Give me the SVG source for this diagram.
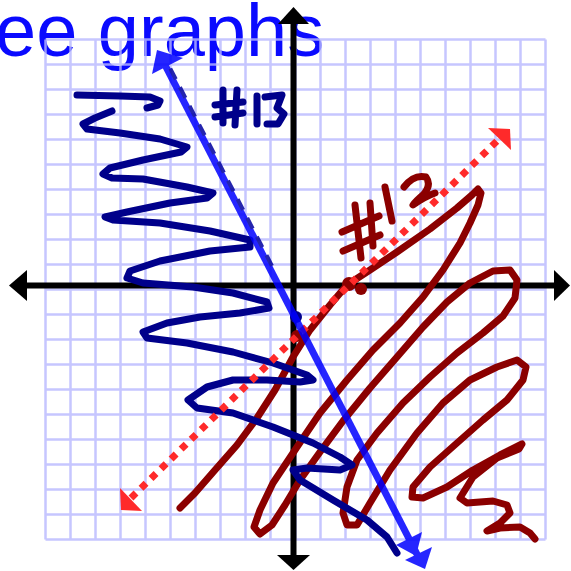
<svg xmlns="http://www.w3.org/2000/svg" width="571" height="571" viewBox="0 0 571 571">
<style>
.grid{fill:none;stroke:#b8b8ff;stroke-opacity:0.8;stroke-width:2.5}
.axis{fill:none;stroke:#000;stroke-width:6}
.navy{fill:none;stroke:#00008b;stroke-width:7;stroke-linecap:round;stroke-linejoin:round}
.dred{fill:none;stroke:#8b0000;stroke-width:7;stroke-linecap:round;stroke-linejoin:round}
.title{font-family:"Liberation Sans",Arial,sans-serif;font-size:74px;fill:#0a0aff}
</style>
<rect width="571" height="571" fill="#fff"/>
<text class="title" x="-5" y="56">ee graphs</text>
<g id="grid">
<path class="grid" d="M45.5 39.5V539.5M70.5 39.5V539.5M95.5 39.5V539.5M120.5 39.5V539.5M145.5 39.5V539.5M170.5 39.5V539.5M195.5 39.5V539.5M220.5 39.5V539.5M245.5 39.5V539.5M270.5 39.5V539.5M295.5 39.5V539.5M320.5 39.5V539.5M345.5 39.5V539.5M370.5 39.5V539.5M395.5 39.5V539.5M420.5 39.5V539.5M445.5 39.5V539.5M470.5 39.5V539.5M495.5 39.5V539.5M520.5 39.5V539.5M545.5 39.5V539.5M45.5 39.5H545.5M45.5 64.5H545.5M45.5 89.5H545.5M45.5 114.5H545.5M45.5 139.5H545.5M45.5 164.5H545.5M45.5 189.5H545.5M45.5 214.5H545.5M45.5 239.5H545.5M45.5 264.5H545.5M45.5 289.5H545.5M45.5 314.5H545.5M45.5 339.5H545.5M45.5 364.5H545.5M45.5 389.5H545.5M45.5 414.5H545.5M45.5 439.5H545.5M45.5 464.5H545.5M45.5 489.5H545.5M45.5 514.5H545.5M45.5 539.5H545.5"/>
</g>
<g id="axes">
<path class="axis" d="M22 285.5H558M293.5 20V558"/>
<polygon points="293.5,7 278,24 309,24" fill="#000"/>
<polygon points="293.5,570 277,555 310,555" fill="#000"/>
<polygon points="9,285.5 27,270 27,301" fill="#000"/>
<polygon points="570,285.5 554,270 554,301" fill="#000"/>
</g>
<g id="scribble-red">
<polyline class="dred" points="180,508 195,493 215,470 237,445 257,418 275,390 293,357 310,330 330,305 347,285 370,270 397,252 430,229 457,208 472,195 478,189 481,193 478,205 470,223 460,243 443,270 423,297 400,323 373,350 347,380 320,413 297,447 273,483 260,510 254,527 260,534 272,525 285,505 300,480 320,452 343,421 370,388 397,357 423,327 447,302 470,283 493,271 510,270 517,280 515,298 503,316 483,333 457,353 430,377 403,403 377,433 357,460 347,487 343,513 347,525 357,525 370,503 390,470 417,433 443,403 470,380 497,367 517,360 526,367 523,380 507,400 483,420 457,443 430,467 413,487 412,497 423,498 447,487 473,470 500,455 522,444 519,449 497,458 473,477 460,498 467,503 493,501 507,505 510,513 500,523 487,531 500,528 520,527 530,533 535,539"/>
<circle cx="297" cy="336" r="6" fill="#8b0000"/>
<circle cx="349" cy="284" r="7" fill="#8b0000"/>
<circle cx="361" cy="289" r="6" fill="#8b0000"/>
</g>
<g id="label-12">
<path class="dred" d="M355 205L361 258M370 203L373 246M342 232L379 216M343 251L380 235M385 187L392 221M404 187Q414 174 426 177Q432 185 423 195Q416 201 413 205Q424 197 435 193"/>
</g>
<g id="scribble-navy">
<polyline class="navy" points="77,95 120,96 150,97 160,101 158,105 147,108"/>
<polyline class="navy" points="112,111 95,118 83,124 87,129 120,133 160,139 187,147 181,152 143,160 110,168 103,174 112,178 143,179 187,187 213,193 207,198 170,203 127,212 105,217 113,220 160,223 210,231 250,240 250,247 210,251 160,261 130,271 127,278 143,283 193,287 233,293 267,302 269,308 240,313 200,317 167,323 143,332 147,338 187,343 233,352 273,363 307,375 313,380 300,382 267,380 233,380 207,387 188,400 197,408 233,413 273,427 313,443 340,457 352,465 340,470 307,468 293,470 300,480 333,500 367,520 387,537 397,553"/>
<circle cx="296" cy="317" r="6" fill="#00008b"/>
</g>
<g id="label-13">
<path class="navy" d="M223 90L223 123M237 90L235 125M215 105L243 102M215 117L243 113M257 96L257 124M265 97L282 95L277 108L284 114L278 124L267 124"/>
</g>
<g id="line-12">
<line x1="131" y1="498" x2="499" y2="139" stroke="#ff2a2a" stroke-width="7" stroke-dasharray="7 7"/>
<polygon points="120,488 121,510 142,511" fill="#ff2a2a"/>
<polygon points="488,128 510,129 511,150" fill="#ff2a2a"/>
</g>
<g id="line-13" opacity="0.85">
<line x1="165" y1="65" x2="420" y2="560" stroke="#0000ff" stroke-width="7"/>
<line x1="170.3" y1="68.6" x2="275.9" y2="273.6" stroke="#0000a0" stroke-width="4" stroke-dasharray="12 9"/>
<polygon points="157,50 183,58 152,74" fill="#0000ff"/>
<polygon points="422,532 396,545 416,556" fill="#0000ff"/>
<polygon points="432,547 405,560 425,569" fill="#0000ff"/>
</g>
</svg>
